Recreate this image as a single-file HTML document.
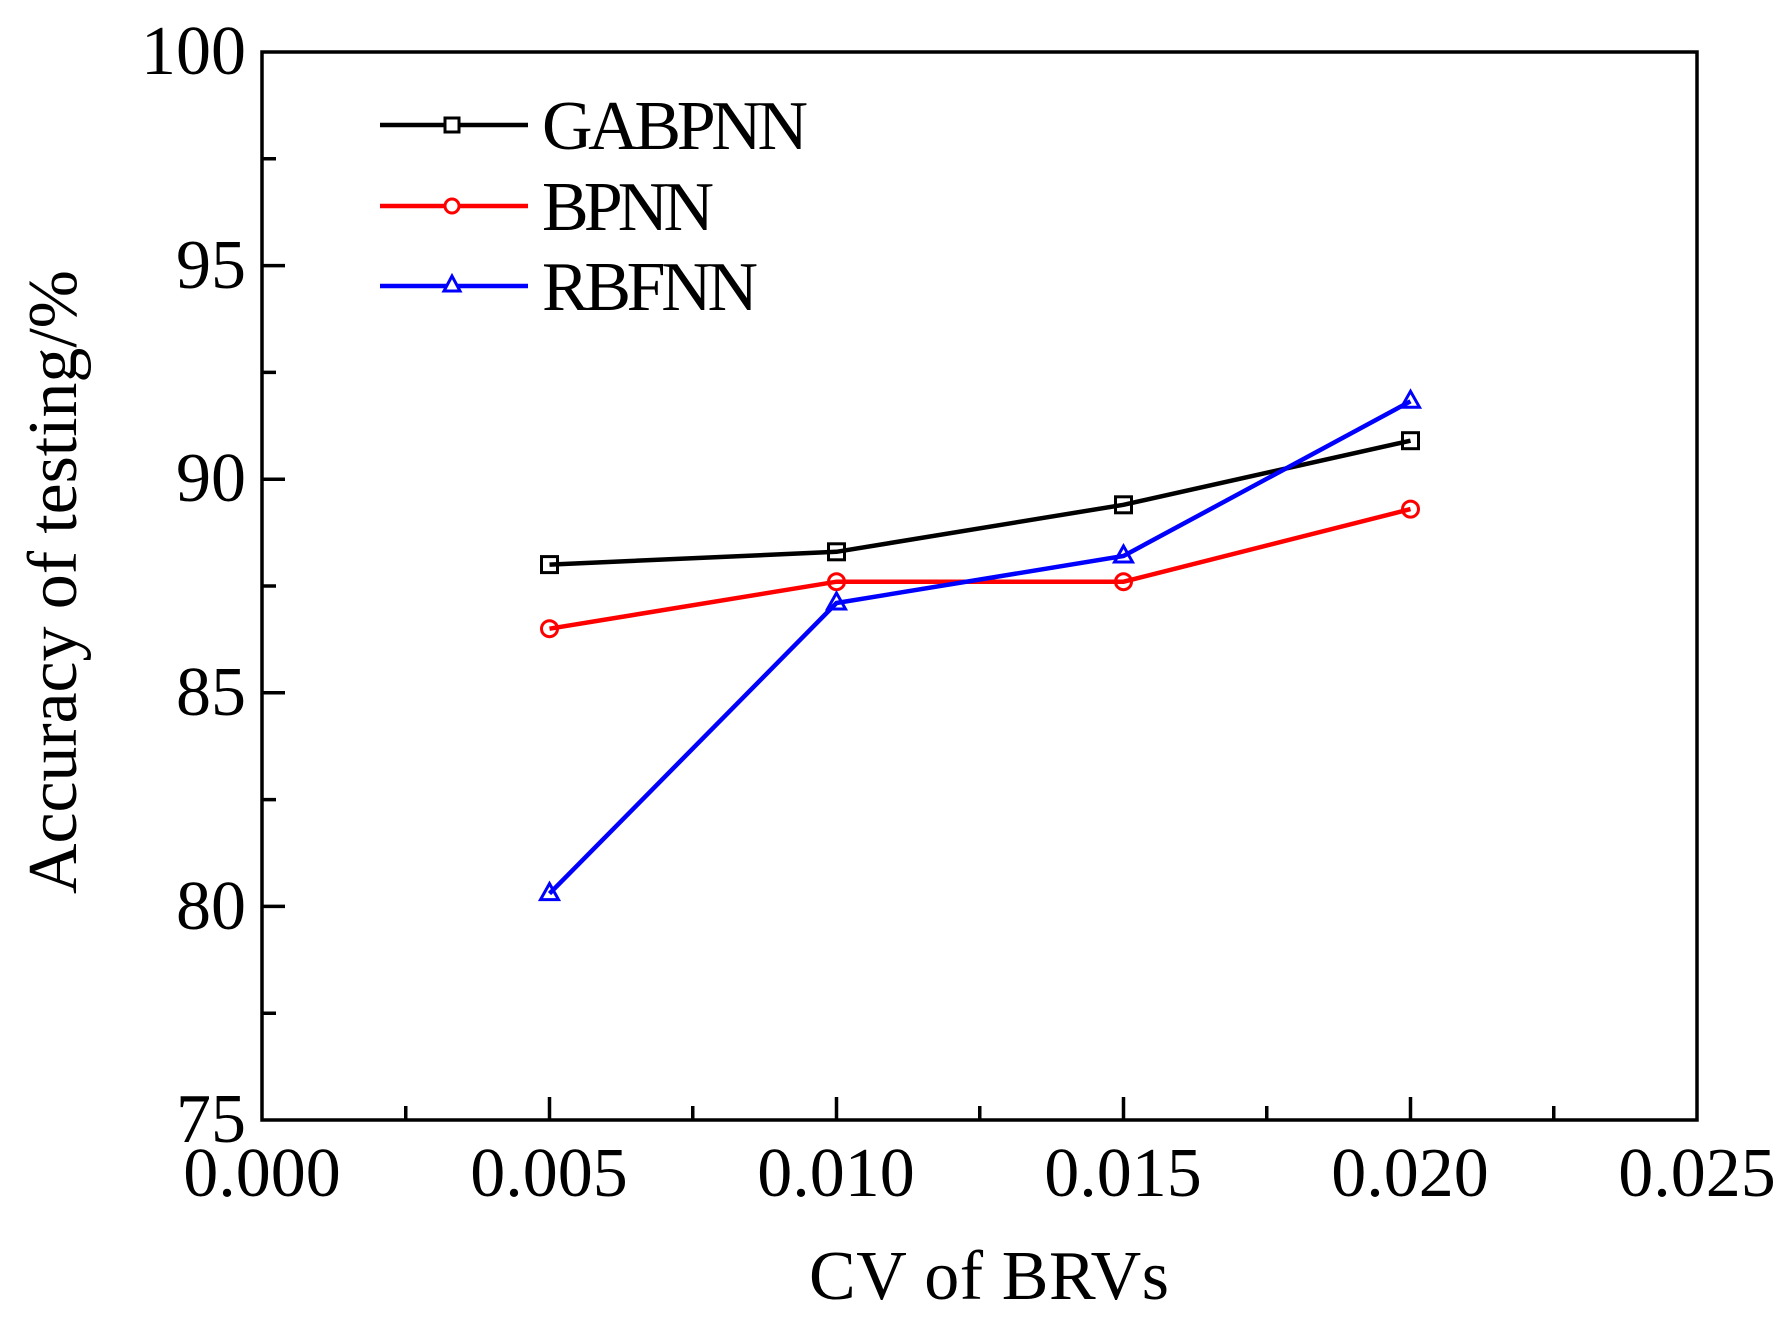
<!DOCTYPE html>
<html><head><meta charset="utf-8"><style>html,body{margin:0;padding:0;background:#fff}svg{display:block}</style></head>
<body>
<svg width="1779" height="1319" viewBox="0 0 1779 1319" xmlns="http://www.w3.org/2000/svg" font-family="Liberation Serif, serif">
<rect width="1779" height="1319" fill="#fff"/>
<g stroke="#000" stroke-width="3.5" fill="none">
<rect x="262" y="52" width="1435" height="1068"/>
<path d="M549.5 1120v-23M836.5 1120v-23M1123.5 1120v-23M1410.5 1120v-23
M405.75 1120v-14M692.75 1120v-14M979.75 1120v-14M1266.75 1120v-14M1553.75 1120v-14"/>
<path d="M262 265.6h23M262 479.2h23M262 692.8h23M262 906.4h23
M262 158.8h14M262 372.4h14M262 586h14M262 799.6h14M262 1013.2h14"/>
</g>
<g font-size="70" fill="#000" text-anchor="end">
<text x="246" y="74">100</text>
<text x="246" y="288">95</text>
<text x="246" y="501">90</text>
<text x="246" y="715">85</text>
<text x="246" y="929">80</text>
<text x="246" y="1142">75</text>
</g>
<g font-size="70" fill="#000" text-anchor="middle">
<text x="262" y="1196">0.000</text>
<text x="549" y="1196">0.005</text>
<text x="836" y="1196">0.010</text>
<text x="1123" y="1196">0.015</text>
<text x="1410" y="1196">0.020</text>
<text x="1697" y="1196">0.025</text>
<text x="989" y="1299" textLength="360">CV of BRVs</text>
<text transform="translate(76,582) rotate(-90)" textLength="624">Accuracy of testing/%</text>
</g>
<g fill="none" stroke-width="4.5">
<polyline stroke="#000" points="549.5,564.6 836.5,551.8 1123.5,504.8 1410.5,440.7"/>
<polyline stroke="#f00" points="549.5,628.7 836.5,581.7 1123.5,581.7 1410.5,509.1"/>
<polyline stroke="#00f" points="549.5,893.6 836.5,603.0 1123.5,556.0 1410.5,401.3"/>
</g>
<g fill="none" stroke-width="3">
<g stroke="#000">
<rect x="541.5" y="556.6" width="16" height="16"/><rect x="828.5" y="543.8" width="16" height="16"/><rect x="1115.5" y="496.8" width="16" height="16"/><rect x="1402.5" y="432.7" width="16" height="16"/>
</g>
<g stroke="#f00">
<circle cx="549.5" cy="628.7" r="8"/><circle cx="836.5" cy="581.7" r="8"/><circle cx="1123.5" cy="581.7" r="8"/><circle cx="1410.5" cy="509.1" r="8"/>
</g>
<g stroke="#00f">
<path d="M549.5 883.6l-9 16h18z"/><path d="M836.5 593l-9 16h18z"/><path d="M1123.5 546l-9 16h18z"/><path d="M1410.5 391.3l-9 16h18z"/>
</g>
</g>
<g stroke-width="4.5">
<line x1="380" y1="125" x2="528" y2="125" stroke="#000"/>
<line x1="380" y1="206" x2="528" y2="206" stroke="#f00"/>
<line x1="380" y1="286" x2="528" y2="286" stroke="#00f"/>
</g>
<g fill="#fff" stroke-width="3">
<rect x="445" y="118" width="14" height="14" stroke="#000"/>
<circle cx="452" cy="206" r="7" stroke="#f00"/>
<path d="M452 276l-8 15h16z" stroke="#00f"/>
</g>
<g font-size="70" fill="#000">
<text x="542" y="149" textLength="266">GABPNN</text>
<text x="542" y="230" textLength="172">BPNN</text>
<text x="542" y="310" textLength="216">RBFNN</text>
</g>
</svg>
</body></html>
